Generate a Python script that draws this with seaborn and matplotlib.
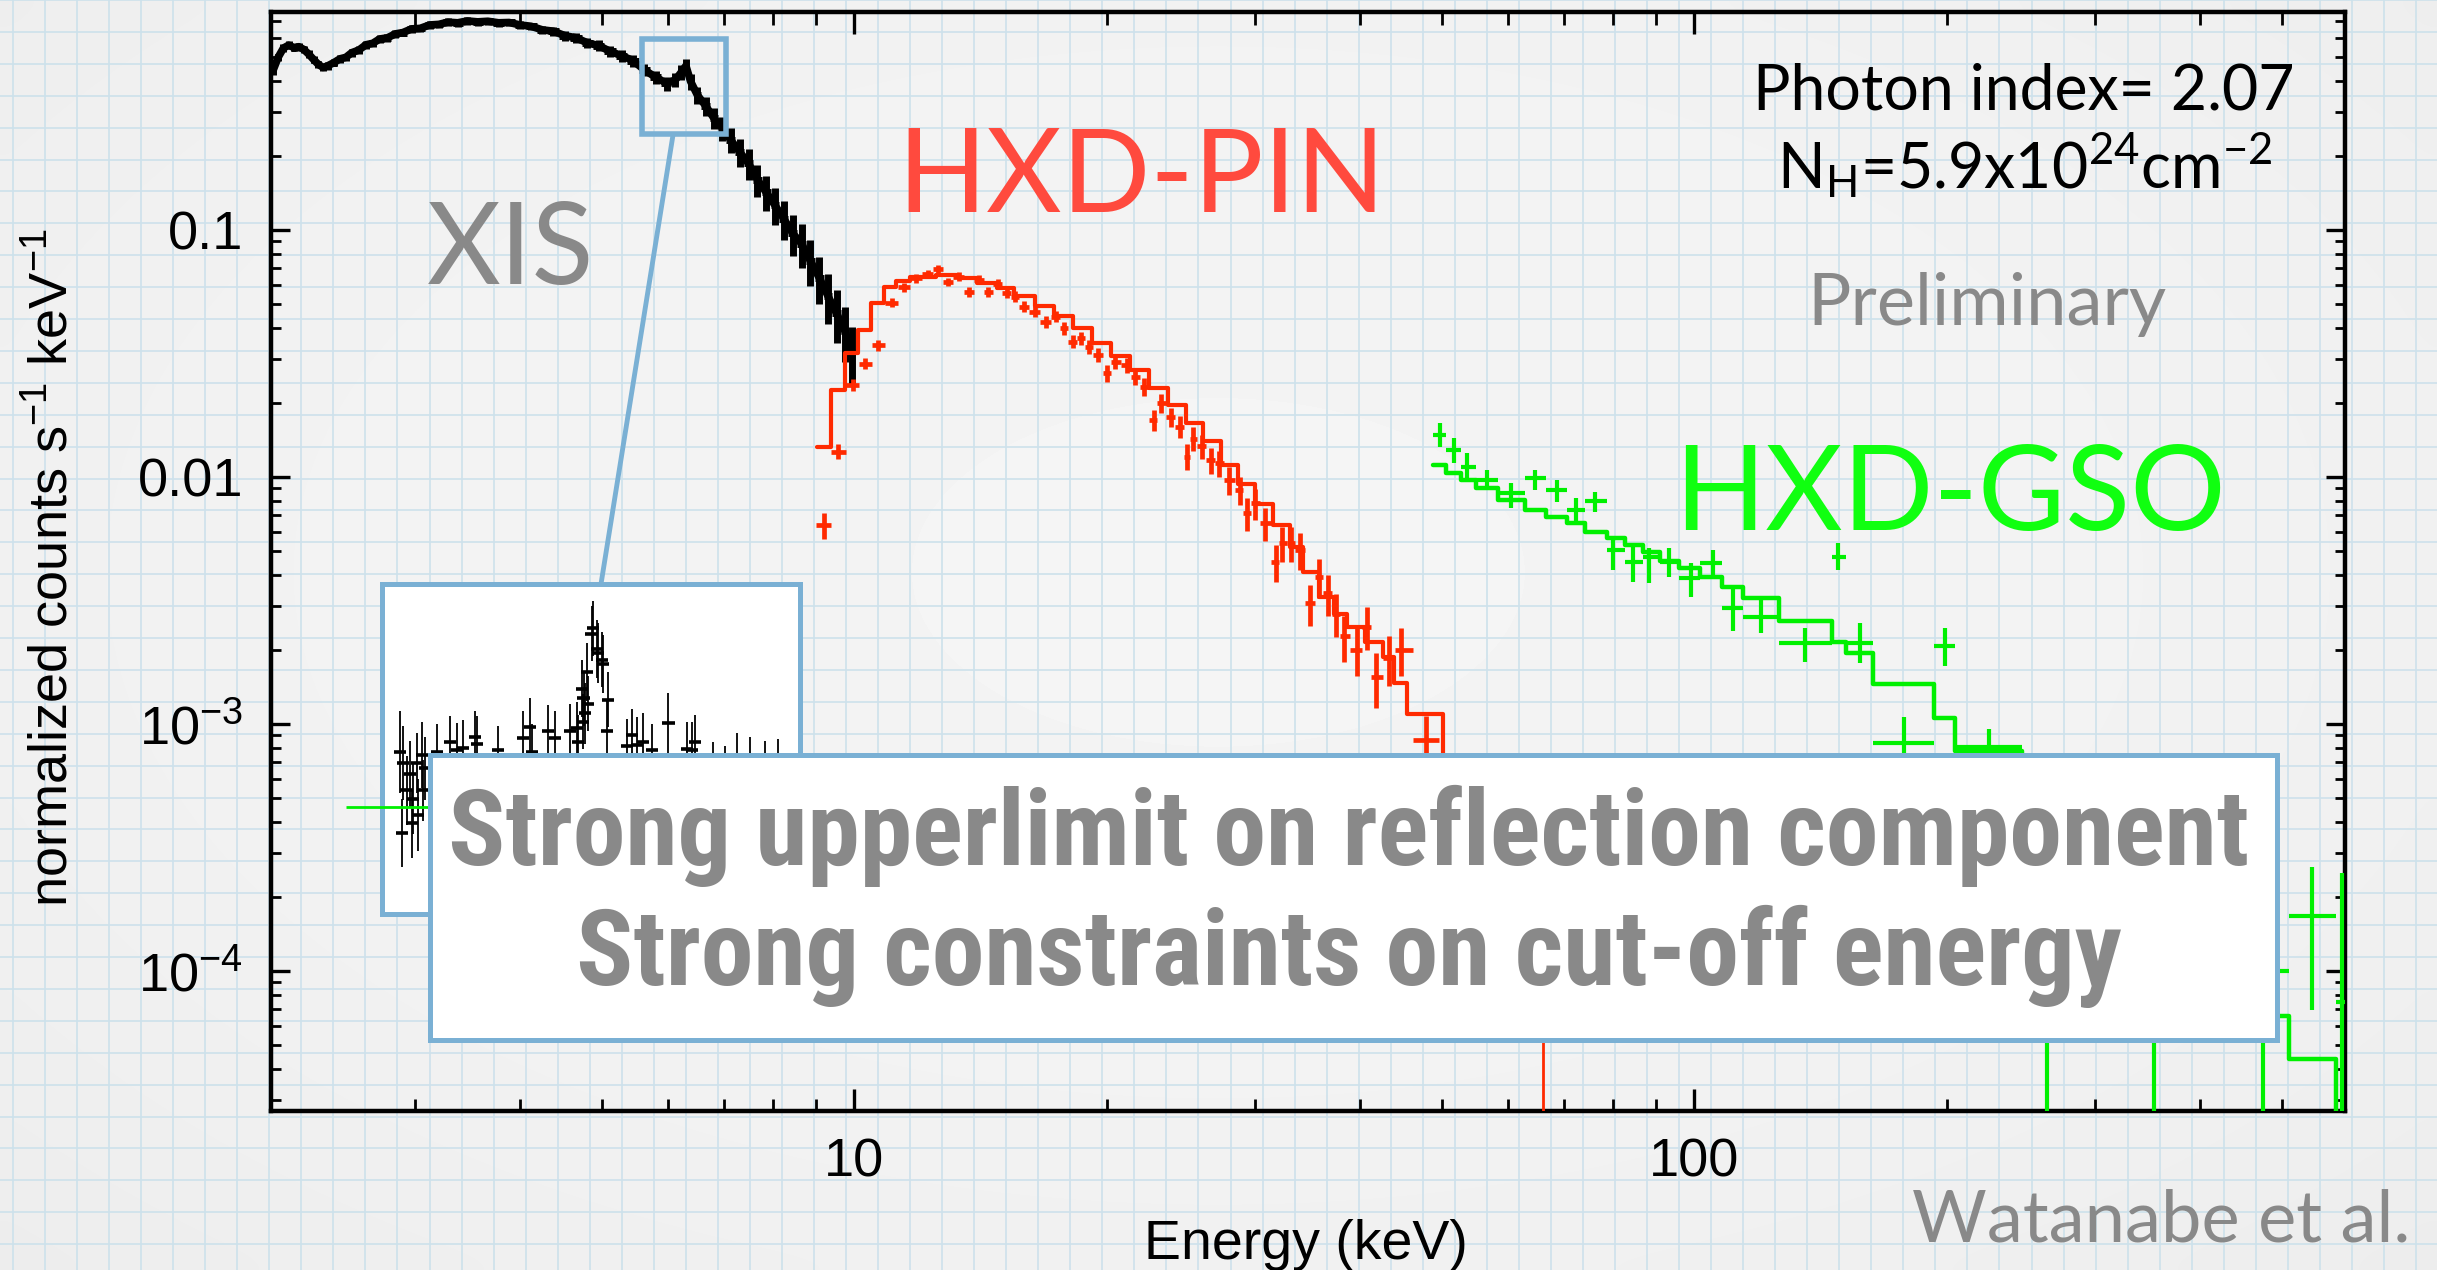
import numpy as np
import matplotlib
matplotlib.use("Agg")
import matplotlib.pyplot as plt
import seaborn as sns
from matplotlib import font_manager
from matplotlib.lines import Line2D
from matplotlib.patches import Rectangle
from matplotlib.ticker import LogLocator, NullFormatter

# ---------------- XIS spectrum (black) ----------------
xis_energy = [2.03, 2.06, 2.09, 2.12, 2.15, 2.18, 2.21, 2.24, 2.27, 2.30,
              2.33, 2.36, 2.40, 2.44, 2.48, 2.52, 2.57, 2.62, 2.67, 2.72,
              2.78, 2.84, 2.90, 2.97, 3.04, 3.12, 3.20, 3.28, 3.37, 3.46,
              3.56, 3.66, 3.77, 3.88, 4.00, 4.12, 4.25, 4.38, 4.52, 4.66,
              4.81, 4.96, 5.12, 5.28, 5.45, 5.62, 5.80, 5.98, 6.12, 6.22,
              6.30, 6.38, 6.50, 6.65, 6.80, 6.96, 7.12, 7.30, 7.48, 7.66,
              7.85, 8.04, 8.24, 8.44, 8.65, 8.86, 9.08, 9.30, 9.52, 9.74, 9.92]
xis_counts = [0.44, 0.50, 0.545, 0.56, 0.548, 0.552, 0.538, 0.515, 0.49, 0.468,
              0.455, 0.462, 0.476, 0.493, 0.50, 0.522, 0.535, 0.562, 0.57, 0.593,
              0.60, 0.622, 0.63, 0.652, 0.655, 0.676, 0.68, 0.694, 0.69, 0.702,
              0.696, 0.70, 0.69, 0.692, 0.676, 0.668, 0.646, 0.638, 0.612, 0.600,
              0.572, 0.558, 0.528, 0.508, 0.485, 0.445, 0.415, 0.392, 0.405, 0.435,
              0.462, 0.40, 0.352, 0.318, 0.284, 0.258, 0.232, 0.207, 0.186, 0.160,
              0.142, 0.126, 0.111, 0.097, 0.088, 0.075, 0.064, 0.054, 0.046, 0.039, 0.032]
xis_err = [0.035, 0.035, 0.035, 0.035, 0.035, 0.035, 0.035, 0.035, 0.035, 0.035,
           0.035, 0.035, 0.035, 0.035, 0.035, 0.035, 0.035, 0.035, 0.035, 0.035,
           0.035, 0.035, 0.035, 0.035, 0.035, 0.035, 0.035, 0.035, 0.035, 0.035,
           0.035, 0.035, 0.035, 0.035, 0.035, 0.035, 0.035, 0.04, 0.045, 0.045,
           0.045, 0.05, 0.05, 0.055, 0.055, 0.06, 0.06, 0.065, 0.065, 0.07,
           0.07, 0.075, 0.08, 0.09, 0.10, 0.11, 0.12, 0.13, 0.14, 0.15,
           0.16, 0.17, 0.18, 0.19, 0.20, 0.21, 0.22, 0.23, 0.24, 0.25, 0.27]

# ---------------- HXD-PIN spectrum (red) ----------------
pin_energy = [9.19, 9.57, 9.97, 10.3, 10.68, 11.08, 11.46, 11.85, 12.22, 12.58,
              12.91, 13.32, 13.70, 14.07, 14.42, 14.81, 15.18, 15.51, 15.9, 16.4,
              16.9, 17.37, 17.76, 18.2, 18.6, 19.0, 19.5, 20.0, 20.4, 21.1,
              21.6, 22.1, 22.7, 23.2, 23.8, 24.4, 24.9, 25.3, 25.9, 26.6,
              27.2, 27.9, 28.8, 29.3, 30.0, 30.8, 31.8, 32.3, 33.1, 33.9,
              34.9, 35.7, 36.6, 37.4, 38.3, 39.6, 40.7, 41.8, 43.3, 44.7, 47.9]
pin_counts = [0.0064, 0.01266, 0.0236, 0.0288, 0.0342, 0.0508, 0.0586, 0.0637, 0.0663, 0.0693,
              0.0617, 0.0647, 0.0562, 0.063, 0.0562, 0.0604, 0.0555, 0.0537, 0.0489, 0.0467,
              0.0425, 0.0446, 0.040, 0.0353, 0.0364, 0.0337, 0.0312, 0.0263, 0.0293, 0.0284,
              0.0255, 0.0232, 0.017, 0.0199, 0.0175, 0.016, 0.0121, 0.0143, 0.0133, 0.0117,
              0.0114, 0.00973, 0.00886, 0.00713, 0.00782, 0.0065, 0.00454, 0.0054, 0.0054, 0.00506,
              0.00308, 0.00395, 0.00338, 0.0028, 0.00226, 0.002, 0.00248, 0.00155, 0.00185, 0.002, 0.00086]
pin_err = [0.12, 0.07, 0.06, 0.05, 0.05, 0.04, 0.04, 0.04, 0.04, 0.04,
           0.04, 0.04, 0.045, 0.04, 0.045, 0.045, 0.045, 0.05, 0.05, 0.05,
           0.055, 0.05, 0.06, 0.06, 0.06, 0.065, 0.065, 0.08, 0.07, 0.07,
           0.075, 0.08, 0.10, 0.09, 0.09, 0.10, 0.12, 0.11, 0.11, 0.12,
           0.12, 0.13, 0.13, 0.15, 0.14, 0.15, 0.17, 0.16, 0.16, 0.17,
           0.19, 0.18, 0.19, 0.20, 0.21, 0.22, 0.20, 0.25, 0.23, 0.22, 0.25]
pin_tail_energy = [66.0]
pin_tail_counts = [1.1e-4]
pin_tail_upper = [2.0e-4]
pin_model_edges = [9.03, 9.37, 9.74, 10.09, 10.46, 10.85, 11.22, 11.64, 12.5, 13.3,
                   14.0, 14.8, 15.5, 16.4, 17.3, 18.2, 19.2, 20.2, 21.3, 22.4,
                   23.6, 24.8, 26.0, 27.3, 28.6, 30.0, 31.5, 33.0, 34.2, 35.7,
                   37.2, 38.6, 40.55, 42.6, 43.9, 45.5, 50.2, 56.0, 70.0]
pin_model_counts = [0.0132, 0.0225, 0.0318, 0.0393, 0.0505, 0.0589, 0.0624, 0.0648, 0.0655, 0.064,
                    0.061, 0.058, 0.054, 0.049, 0.045, 0.040, 0.035, 0.031, 0.027, 0.023,
                    0.0195, 0.0165, 0.014, 0.0112, 0.0094, 0.0078, 0.0064, 0.0052, 0.00414, 0.00328,
                    0.0028, 0.00248, 0.00215, 0.00187, 0.00146, 0.0011, 6.5e-4, 3.0e-4]

# ---------------- HXD-GSO spectrum (green) ----------------
gso_edges = [48.9, 50.6, 52.8, 55.0, 58.3, 62.8, 66.6, 70.6, 74.1, 78.6,
             82.6, 86.8, 91.0, 95.9, 101.6, 107.8, 114.2, 126.2, 145.8, 151.4,
             163.2, 192.8, 204.2, 245.2, 283.0, 440.0, 510.0, 580.0, 600.0]
gso_energy = [49.8, 51.7, 53.6, 56.6, 60.5, 64.6, 68.6, 72.3, 76.2, 80.1,
              84.4, 88.3, 93.2, 99.1, 105.1, 111.0, 120.0, 135.5, 148.3, 157.4,
              177.4, 198.6, 224.0, 263.0, 352.0, 475.0, 543.0, 590.0]
gso_counts = [0.0148, 0.01286, 0.0110, 0.00972, 0.00859, 0.00988, 0.00886, 0.00735, 0.00802, 0.00506,
              0.00454, 0.00476, 0.00454, 0.00389, 0.00447, 0.00294, 0.00272, 0.00212, 0.00476, 0.00212,
              0.000836, 0.00207, 0.00081, 3.0e-4, 1.5e-4, 1.0e-4, 1.67e-4, 7.5e-5]
gso_upper = [0.0165, 0.01434, 0.01247, 0.01067, 0.00943, 0.01067, 0.00972, 0.0082, 0.00872, 0.00573,
             0.0053, 0.00514, 0.00514, 0.00447, 0.00506, 0.00354, 0.00318, 0.00244, 0.00539, 0.00256,
             0.00107, 0.00244, 0.00095, 6.0e-4, 3.5e-4, 2.5e-4, 2.64e-4, 2.5e-4]
gso_lower = [0.01327, 0.01136, 0.00972, 0.009, 0.00746, 0.00886, 0.00794, 0.00659, 0.00724, 0.0042,
             0.00377, 0.00371, 0.00395, 0.00328, 0.00395, 0.00237, 0.00233, 0.00179, 0.0042, 0.00176,
             0.00065, 0.00171, 0.0006, 1e-6, 1e-6, 1e-6, 6.95e-5, 1e-6]
gso_model_counts = [0.0112, 0.01036, 0.00973, 0.009, 0.00807, 0.00735, 0.00687, 0.00649, 0.0060, 0.00565,
                    0.00531, 0.00495, 0.00455, 0.00427, 0.00395, 0.0036, 0.00323, 0.00262, 0.00215, 0.00193,
                    0.00145, 0.00106, 0.00078, 4.8e-4, 2.2e-4, 6.6e-5, 4.4e-5, 2.5e-5]
gso_wide_edges = [2.48, 40.0]
gso_wide_counts = [4.6e-4]

# ---------------- Fe K line close-up (inset) ----------------
fe_energy = [5.639, 5.645, 5.649, 5.66, 5.671, 5.677, 5.681, 5.693, 5.697, 5.709,
             5.713, 5.72, 5.758, 5.801, 5.823, 5.844, 5.883, 5.888, 5.957, 6.039,
             6.062, 6.067, 6.12, 6.143, 6.192, 6.214, 6.218, 6.23, 6.234, 6.236,
             6.241, 6.247, 6.25, 6.262, 6.267, 6.279, 6.283, 6.295, 6.299, 6.311,
             6.315, 6.376, 6.393, 6.409, 6.429, 6.458, 6.512, 6.572, 6.588, 6.599,
             6.657, 6.696, 6.734, 6.777, 6.826, 6.869]
fe_counts = [0.398, 0.339, 0.39, 0.37, 0.382, 0.346, 0.364, 0.39, 0.352, 0.396,
             0.37, 0.386, 0.398, 0.405, 0.399, 0.401, 0.409, 0.404, 0.399, 0.408,
             0.416, 0.398, 0.413, 0.408, 0.413, 0.415, 0.405, 0.444, 0.42, 0.437,
             0.426, 0.456, 0.433, 0.484, 0.488, 0.473, 0.47, 0.465, 0.462, 0.413,
             0.436, 0.402, 0.41, 0.403, 0.405, 0.399, 0.419, 0.40, 0.399, 0.405,
             0.38, 0.375, 0.39, 0.385, 0.38, 0.385]
fe_err = [0.03, 0.025, 0.027, 0.025, 0.024, 0.025, 0.026, 0.022, 0.026, 0.024,
          0.022, 0.023, 0.02, 0.019, 0.02, 0.02, 0.019, 0.02, 0.018, 0.02,
          0.021, 0.02, 0.019, 0.02, 0.02, 0.019, 0.02, 0.021, 0.02, 0.02,
          0.022, 0.021, 0.02, 0.02, 0.02, 0.021, 0.022, 0.02, 0.021, 0.022,
          0.02, 0.02, 0.019, 0.02, 0.021, 0.019, 0.022, 0.02, 0.021, 0.02,
          0.025, 0.027, 0.022, 0.024, 0.026, 0.022]

# ---------------- styling ----------------
W, H = 2437, 1270
BLUE = '#7ab0d4'
GRAY = '#898989'
RED_DATA = '#ff2a00'
RED_LABEL = '#ff4a3e'
GREEN = '#00f000'
GREEN_LABEL = '#10ff10'

sns.set_theme(style="ticks")
plt.rcParams['font.family'] = ['Liberation Sans', 'DejaVu Sans']
plt.rcParams['axes.unicode_minus'] = True
LATO = ['Lato', 'DejaVu Sans']

available = {f.name for f in font_manager.fontManager.ttflist}
hand_family = next((n for n in ['Liberation Sans Narrow', 'Roboto Condensed',
                                'Open Sans Condensed', 'DejaVu Sans Condensed']
                    if n in available), 'Lato')


def fx(px):
    return px / W


def fy(py):
    return 1 - py / H


def log_halfwidths(e):
    """Asymmetric half-widths of bins centred on each energy (log midpoints)."""
    e = np.asarray(e, float)
    le = np.log10(e)
    mids = (le[:-1] + le[1:]) / 2
    lo = np.concatenate([[2 * le[0] - mids[0]], mids])
    hi = np.concatenate([mids, [2 * le[-1] - mids[-1]]])
    return np.vstack([e - 10 ** lo, 10 ** hi - e])


fig = plt.figure(figsize=(W / 100, H / 100), dpi=100, facecolor='#f0f0f0')

# graph-paper background
ax_bg = fig.add_axes([0, 0, 1, 1], zorder=0)
ax_bg.set_axis_off()
gy, gx = np.mgrid[0:1:64j, 0:1:128j]
shade = 0.958 - 0.03 * (((gx - 0.5) / 0.5) ** 2 + ((gy - 0.45) / 0.55) ** 2) / 2
ax_bg.imshow(shade, cmap='gray', vmin=0, vmax=1, extent=(0, W, H, 0),
             aspect='auto', interpolation='bicubic', zorder=0)
ax_bg.vlines(np.arange(13, W, 32.04), 0, H, color='#cde1eb', lw=1.2, zorder=1)
ax_bg.hlines(np.arange(0, H, 31.9), 0, W, color='#cde1eb', lw=1.2, zorder=1)
ax_bg.set_xlim(0, W)
ax_bg.set_ylim(H, 0)

# main spectrum axes
ax = fig.add_axes([fx(271), fy(1111), (2345 - 271) / W, (1111 - 12) / H], zorder=1)
ax.set_facecolor('none')
ax.set_xscale('log')
ax.set_yscale('log')

# XIS
xc = np.asarray(xis_counts)
sns.lineplot(x=xis_energy, y=xis_counts, color='black', lw=5.5, estimator=None,
             sort=False, legend=False, ax=ax, zorder=3)
ax.errorbar(xis_energy, xis_counts, xerr=log_halfwidths(xis_energy),
            yerr=xc * np.asarray(xis_err), fmt='none', ecolor='black',
            elinewidth=5.0, capsize=0, zorder=3)

# PIN model and data
sns.lineplot(x=pin_model_edges, y=pin_model_counts + [pin_model_counts[-1]],
             drawstyle='steps-post', color=RED_DATA, lw=3.0, estimator=None,
             sort=False, legend=False, ax=ax, zorder=4)
pc = np.asarray(pin_counts)
ax.errorbar(pin_energy, pin_counts, xerr=log_halfwidths(pin_energy),
            yerr=pc * np.asarray(pin_err), fmt='none', ecolor=RED_DATA,
            elinewidth=3.4, capsize=0, zorder=4)
tc = np.asarray(pin_tail_counts)
ax.errorbar(pin_tail_energy, pin_tail_counts, xerr=[[3.0], [3.0]],
            yerr=[tc - 1e-6, np.asarray(pin_tail_upper) - tc], fmt='none',
            ecolor=RED_DATA, elinewidth=2.0, capsize=0, zorder=4)

# GSO model and data
sns.lineplot(x=gso_edges, y=gso_model_counts + [gso_model_counts[-1]],
             drawstyle='steps-post', color=GREEN, lw=3.2, estimator=None,
             sort=False, legend=False, ax=ax, zorder=4)
ge = np.asarray(gso_energy)
gedges = np.asarray(gso_edges)
gcnt = np.asarray(gso_counts)
ax.errorbar(gso_energy, gso_counts,
            xerr=[ge - gedges[:-1], gedges[1:] - ge],
            yerr=[gcnt - np.asarray(gso_lower), np.asarray(gso_upper) - gcnt],
            fmt='none', ecolor=GREEN, elinewidth=3.0, capsize=0, zorder=4)

ax.set_xlim(2.02, 595)
ax.set_ylim(2.71e-5, 0.763)

# region shown enlarged in the inset
ax.add_patch(Rectangle((5.59, 0.245), 7.04 - 5.59, 0.593 - 0.245, fill=False,
                       ec=BLUE, lw=4.0, zorder=6))

for s in ax.spines.values():
    s.set_linewidth(3.2)
    s.set_color('black')
ax.set_xticks([10, 100], ['10', '100'])
ax.xaxis.set_minor_locator(LogLocator(base=10, subs=np.arange(2, 10), numticks=20))
ax.xaxis.set_minor_formatter(NullFormatter())
ax.set_yticks([1e-4, 1e-3, 1e-2, 1e-1],
              [r'$\mathregular{10^{-4}}$', r'$\mathregular{10^{-3}}$', '0.01', '0.1'])
ax.yaxis.set_minor_locator(LogLocator(base=10, subs=np.arange(2, 10), numticks=20))
ax.yaxis.set_minor_formatter(NullFormatter())
ax.tick_params(which='both', direction='in', top=True, right=True, colors='black')
ax.tick_params(axis='x', which='major', length=16, width=2.4, labelsize=39, pad=19)
ax.tick_params(axis='x', which='minor', length=9, width=2.0)
ax.tick_params(axis='y', which='major', length=14, width=2.4, labelsize=39, pad=20)
ax.tick_params(axis='y', which='minor', length=7, width=2.0)
ax.set_xlabel('Energy (keV)', fontsize=40, color='black')
ax.xaxis.set_label_coords(0.499, -0.098)
ax.set_ylabel(r'normalized counts s$\mathregular{^{-1}}$ keV$\mathregular{^{-1}}$',
              fontsize=39, color='black')
ax.yaxis.set_label_coords(-0.093, 0.494)

# connector from the marked region to the inset
fig.add_artist(Line2D([fx(673), fx(601)], [fy(135), fy(584)], color=BLUE,
                      lw=3.5, zorder=2.5))

# Fe K line inset
ax_in = fig.add_axes([fx(382), fy(914), (800 - 382) / W, (914 - 584) / H], zorder=3)
ax_in.set_facecolor('white')
ax_in.errorbar(fe_energy, fe_counts, yerr=fe_err, fmt='none', ecolor='black',
               elinewidth=1.3, capsize=0)
ax_in.errorbar(fe_energy, fe_counts, xerr=0.02, fmt='none', ecolor='black',
               elinewidth=2.6, capsize=0)
ax_in.set_xlim(5.58, 6.94)
ax_in.set_ylim(0.28, 0.52)
ax_in.set_xticks([])
ax_in.set_yticks([])
for s in ax_in.spines.values():
    s.set_linewidth(3.6)
    s.set_color(BLUE)

# wide GSO bin drawn over the inset
ax_top = fig.add_axes(ax.get_position(), zorder=4)
ax_top.set_xscale('log')
ax_top.set_yscale('log')
ax_top.set_xlim(ax.get_xlim())
ax_top.set_ylim(ax.get_ylim())
ax_top.set_axis_off()
ax_top.hlines(gso_wide_counts, gso_wide_edges[0], gso_wide_edges[1],
              color=GREEN, lw=2.0)

# instrument and fit annotations
fig.text(fx(511), fy(284), 'XIS', family=LATO, fontsize=82, color=GRAY,
         ha='center', va='baseline', zorder=3)
fig.text(fx(1141), fy(212), 'HXD-PIN', family=LATO, fontsize=84, color=RED_LABEL,
         ha='center', va='baseline', zorder=3)
fig.text(fx(1950), fy(530), 'HXD-GSO', family=LATO, fontsize=86, color=GREEN_LABEL,
         ha='center', va='baseline', zorder=3)
fig.text(fx(2024), fy(110), 'Photon index= 2.07', family=LATO, fontsize=45,
         color='black', ha='center', va='baseline', zorder=3)
fig.text(fx(2025), fy(188),
         r'$\mathregular{N_H}$=5.9x$\mathregular{10^{24}}$cm$\mathregular{^{-2}}$',
         family=LATO, fontsize=45, color='black', ha='center', va='baseline', zorder=3)
fig.text(fx(1987), fy(325), 'Preliminary', family=LATO, fontsize=52, color=GRAY,
         ha='center', va='baseline', zorder=3)
fig.text(fx(2410), fy(1242), 'Watanabe et al.', family=LATO, fontsize=52, color=GRAY,
         ha='right', va='baseline', zorder=3)

# summary box
fig.add_artist(Rectangle((fx(430), fy(1040)), (2277 - 430) / W, (1040 - 755) / H,
                         facecolor='white', edgecolor=BLUE, lw=3.6, zorder=5))
line1 = fig.text(fx(1349), fy(865), 'Strong upperlimit on reflection component',
                 family=[hand_family, 'DejaVu Sans'], fontweight='bold', fontsize=60,
                 color=GRAY, ha='center', va='baseline', zorder=6)
line2 = fig.text(fx(1349), fy(985), 'Strong constraints on cut-off energy',
                 family=[hand_family, 'DejaVu Sans'], fontweight='bold', fontsize=60,
                 color=GRAY, ha='center', va='baseline', zorder=6)
renderer = fig.canvas.get_renderer()
scale = 1803 / line1.get_window_extent(renderer).width
for t in (line1, line2):
    t.set_fontsize(t.get_fontsize() * scale)

fig.savefig('out.png', dpi=100, facecolor=fig.get_facecolor())
